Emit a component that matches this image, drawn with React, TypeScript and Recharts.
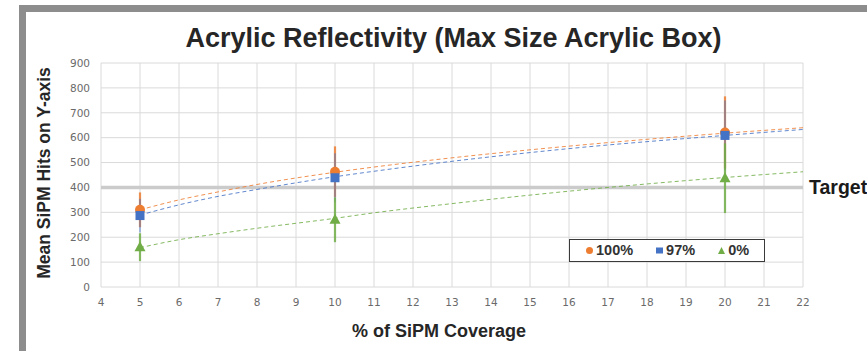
import React from 'react';
import {
  ComposedChart,
  Scatter,
  Line,
  XAxis,
  YAxis,
  CartesianGrid,
  ReferenceLine,
  ErrorBar,
  Legend,
} from 'recharts';

// Measured mean SiPM hits per coverage setting, with their spreads
const coverage = [5, 10, 20];
const hits100 = [310, 463, 621];
const err100 = [70, 102, 145];
const hits97 = [287, 439, 609];
const err97 = [68, 98, 140];
const hits0 = [160, 270, 437];
const err0 = [56, 90, 140];

// Trend curves (logarithmic fit) sampled along the coverage axis
const trendCoverage = [5, 6, 7, 8, 10, 11, 13, 16, 20, 22];
const trend100 = [310, 350, 382, 412, 461, 482, 519, 566, 618, 640];
const trend97 = [289, 330, 364, 392, 443, 465, 505, 556, 609, 633];
const trend0 = [158, 190, 214, 236, 276, 298, 335, 385, 440, 463];

const xTicks = [4, 5, 6, 7, 8, 9, 10, 11, 12, 13, 14, 15, 16, 17, 18, 19, 20, 21, 22];
const yTicks = [0, 100, 200, 300, 400, 500, 600, 700, 800, 900];
const targetHits = 400;

const seriesNames = ['100%', '97%', '0%'];
const colors = ['#ED7D31', '#4472C4', '#70AD47'];

const toPoints = (ys: number[], errs: number[]) =>
  coverage.map((x, i) => ({ x, y: ys[i], err: errs[i] }));
const toTrend = (ys: number[]) => trendCoverage.map((x, i) => ({ x, y: ys[i] }));

const pts100 = toPoints(hits100, err100);
const pts97 = toPoints(hits97, err97);
const pts0 = toPoints(hits0, err0);

const CircleDot = (p: any) => <circle cx={p.cx} cy={p.cy} r={5} fill={p.fill} />;
const SquareDot = (p: any) => (
  <rect x={p.cx - 4.5} y={p.cy - 4.5} width={9} height={9} fill={p.fill} />
);
const TriangleDot = (p: any) => (
  <polygon
    points={`${p.cx},${p.cy - 6} ${p.cx + 5.5},${p.cy + 4} ${p.cx - 5.5},${p.cy + 4}`}
    fill={p.fill}
  />
);

const LegendIcon = ({ type, color }: { type: string; color: string }) => (
  <svg width={7} height={7} style={{ marginRight: 3, display: 'block' }}>
    {type === 'circle' && <circle cx={3.5} cy={3.5} r={3.5} fill={color} />}
    {type === 'square' && <rect x={0} y={0.5} width={7} height={6} fill={color} />}
    {type === 'triangle' && <polygon points="3.5,0 7,7 0,7" fill={color} />}
  </svg>
);

const renderLegend = (props: any) => {
  const items = (props.payload || [])
    .filter((e: any) => e.type !== 'none')
    .slice()
    .sort((a: any, b: any) => seriesNames.indexOf(a.value) - seriesNames.indexOf(b.value));
  return (
    <div
      style={{
        display: 'flex',
        alignItems: 'center',
        height: '100%',
        paddingLeft: 16,
        boxSizing: 'border-box',
      }}
    >
      {items.map((e: any, i: number) => (
        <div
          key={e.value}
          style={{ display: 'flex', alignItems: 'center', marginLeft: i === 0 ? 0 : 23 }}
        >
          <LegendIcon type={e.type} color={e.color} />
          <span
            style={{
              fontFamily: '"Liberation Sans", Arial, sans-serif',
              fontWeight: 'bold',
              fontSize: 14.5,
              color: '#333',
              lineHeight: '15px',
            }}
          >
            {e.value}
          </span>
        </div>
      ))}
    </div>
  );
};

const tickStyle = { fontFamily: '"DejaVu Sans", sans-serif', fontSize: 10.5, fill: '#6a6a6a' };
const titleFont = '"Liberation Sans", Arial, sans-serif';

export default function App() {
  return (
    <div
      style={{
        position: 'absolute',
        left: 0,
        top: 0,
        width: 867,
        height: 351,
        overflow: 'hidden',
        background: '#fff',
      }}
    >
      <div
        style={{
          position: 'absolute',
          left: 19,
          top: 5,
          width: 900,
          height: 400,
          border: '7px solid #8d8d8d',
          background: '#fff',
        }}
      />
      <div
        style={{
          position: 'absolute',
          left: 0,
          top: 25,
          width: 907,
          textAlign: 'center',
          fontFamily: titleFont,
          fontWeight: 'bold',
          fontSize: 27,
          lineHeight: '27px',
          color: '#262626',
        }}
      >
        Acrylic Reflectivity (Max Size Acrylic Box)
      </div>
      <div
        style={{
          position: 'absolute',
          left: 44 - 130,
          top: 172.5 - 9,
          width: 260,
          textAlign: 'center',
          fontFamily: titleFont,
          fontWeight: 'bold',
          fontSize: 17.5,
          lineHeight: '18px',
          color: '#262626',
          transform: 'rotate(-90deg)',
          transformOrigin: 'center',
        }}
      >
        Mean SiPM Hits on Y-axis
      </div>
      <div
        style={{
          position: 'absolute',
          left: 439 - 150,
          top: 331 - 9,
          width: 300,
          textAlign: 'center',
          fontFamily: titleFont,
          fontWeight: 'bold',
          fontSize: 18,
          lineHeight: '18px',
          color: '#262626',
        }}
      >
        % of SiPM Coverage
      </div>
      <div style={{ position: 'absolute', left: 0, top: 0 }}>
        <ComposedChart width={867} height={351} margin={{ top: 63, right: 64, bottom: 34, left: 61 }}>
          <CartesianGrid stroke="#dadada" strokeWidth={1} />
          <XAxis
            type="number"
            dataKey="x"
            domain={[4, 22]}
            ticks={xTicks}
            interval={0}
            allowDataOverflow
            axisLine={false}
            tickLine={false}
            tickSize={0}
            tickMargin={12}
            height={30}
            tick={tickStyle}
          />
          <YAxis
            type="number"
            domain={[0, 900]}
            ticks={yTicks}
            interval={0}
            axisLine={false}
            tickLine={false}
            tickSize={0}
            tickMargin={11}
            width={40}
            tick={tickStyle}
          />
          <ReferenceLine
            y={targetHits}
            stroke="#cbcbcb"
            strokeWidth={3.5}
            label={{
              value: 'Target',
              position: 'right',
              offset: 6,
              fill: '#1a1a1a',
              fontFamily: titleFont,
              fontWeight: 'bold',
              fontSize: 19.5,
            }}
          />
          <Line
            data={toTrend(trend100)}
            dataKey="y"
            type="monotone"
            stroke={colors[0]}
            strokeWidth={1}
            strokeOpacity={0.85}
            strokeDasharray="4 3"
            dot={false}
            legendType="none"
            isAnimationActive={false}
          />
          <Line
            data={toTrend(trend97)}
            dataKey="y"
            type="monotone"
            stroke={colors[1]}
            strokeWidth={1}
            strokeOpacity={0.85}
            strokeDasharray="4 3"
            dot={false}
            legendType="none"
            isAnimationActive={false}
          />
          <Line
            data={toTrend(trend0)}
            dataKey="y"
            type="monotone"
            stroke={colors[2]}
            strokeWidth={1}
            strokeOpacity={0.85}
            strokeDasharray="4 3"
            dot={false}
            legendType="none"
            isAnimationActive={false}
          />
          <Scatter
            name={seriesNames[0]}
            data={pts100}
            dataKey="y"
            fill={colors[0]}
            legendType="circle"
            shape={CircleDot}
            isAnimationActive={false}
          >
            <ErrorBar dataKey="err" direction="y" width={0} stroke={colors[0]} strokeWidth={2.2} strokeOpacity={0.85} />
          </Scatter>
          <Scatter
            name={seriesNames[1]}
            data={pts97}
            dataKey="y"
            fill={colors[1]}
            legendType="square"
            shape={SquareDot}
            isAnimationActive={false}
          >
            <ErrorBar dataKey="err" direction="y" width={0} stroke={colors[1]} strokeWidth={1.5} strokeOpacity={0.6} />
          </Scatter>
          <Scatter
            name={seriesNames[2]}
            data={pts0}
            dataKey="y"
            fill={colors[2]}
            legendType="triangle"
            shape={TriangleDot}
            isAnimationActive={false}
          >
            <ErrorBar dataKey="err" direction="y" width={0} stroke={colors[2]} strokeWidth={2.2} strokeOpacity={0.85} />
          </Scatter>
          <Legend
            layout="horizontal"
            verticalAlign="middle"
            align="center"
            content={renderLegend}
            wrapperStyle={{
              position: 'absolute',
              left: 569,
              top: 239,
              width: 196,
              height: 23,
              border: '1.5px solid #3a3a3a',
              boxSizing: 'border-box',
              background: '#fff',
            }}
          />
        </ComposedChart>
      </div>
    </div>
  );
}
